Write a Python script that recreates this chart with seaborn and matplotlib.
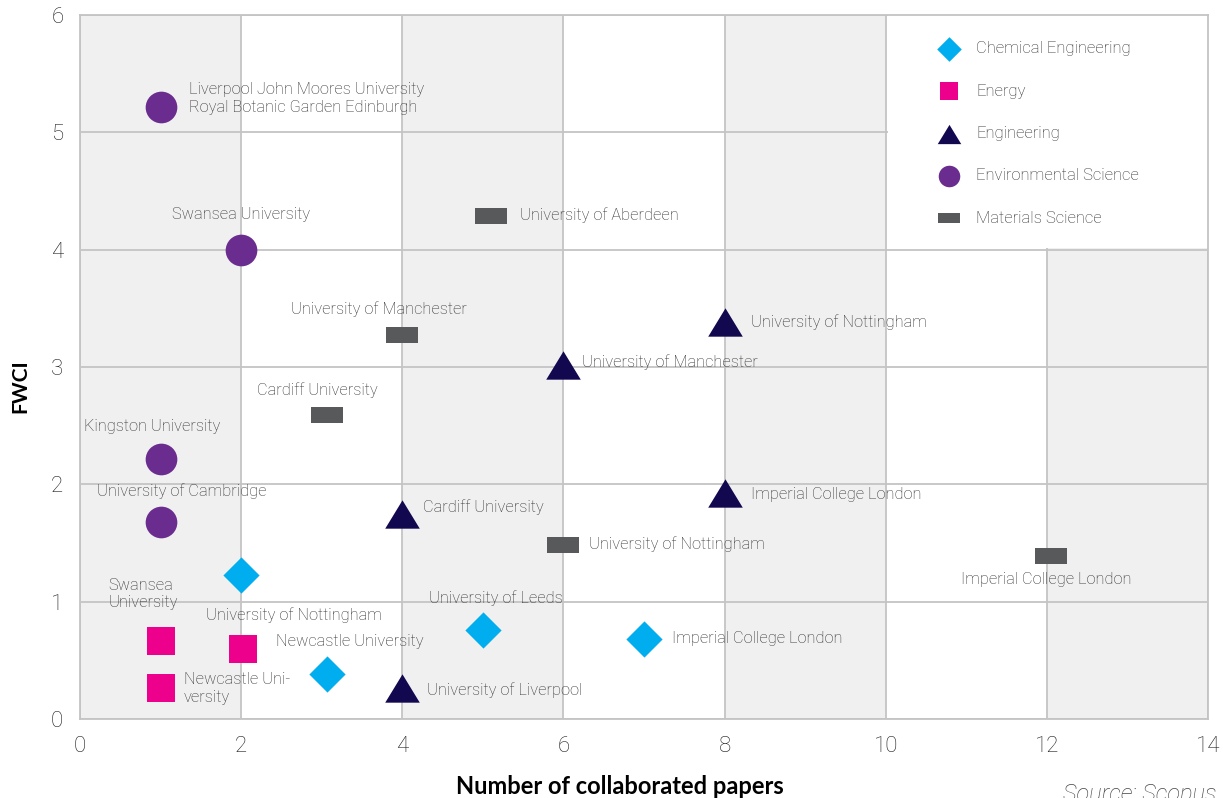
import numpy as np
import pandas as pd
import matplotlib
matplotlib.use("Agg")
import matplotlib.pyplot as plt
from matplotlib.patches import Rectangle
import seaborn as sns

# ----------------------------------------------------------
# Data
# ----------------------------------------------------------

fields = ["Chemical Engineering", "Energy", "Engineering",
          "Environmental Science", "Materials Science"]

chem_x = [2.0, 3.07, 5.0, 7.0]
chem_y = [1.23, 0.38, 0.76, 0.68]
chem_names = ["", "Newcastle University", "University of Leeds",
              "Imperial College London"]

energy_x = [1.0, 2.02, 1.0]
energy_y = [0.665, 0.60, 0.26]
energy_names = ["Swansea\nUniversity", "University of Nottingham",
                "Newcastle Uni-\nversity"]

eng_x = [4.0, 4.0, 6.0, 8.0, 8.0]
eng_y = [0.26, 1.75, 3.02, 3.38, 1.93]
eng_names = ["University of Liverpool", "Cardiff University",
             "University of Manchester", "University of Nottingham",
             "Imperial College London"]

env_x = [1.0, 2.0, 1.0, 1.0]
env_y = [5.22, 4.0, 2.215, 1.68]
env_names = ["Liverpool John Moores University\nRoyal Botanic Garden Edinburgh",
             "Swansea University", "Kingston University",
             "University of Cambridge"]

mat_x = [5.1, 4.0, 3.06, 6.0, 12.05]
mat_y = [4.29, 3.27, 2.59, 1.48, 1.39]
mat_names = ["University of Aberdeen", "University of Manchester",
             "Cardiff University", "University of Nottingham",
             "Imperial College London"]

x_ticks = [0, 2, 4, 6, 8, 10, 12, 14]
y_ticks = [0, 1, 2, 3, 4, 5, 6]

# ----------------------------------------------------------
# Style
# ----------------------------------------------------------

sns.set_style("white")
plt.rcParams["font.family"] = ["Roboto", "DejaVu Sans"]

GRID = "#c4c4c4"
BAND = "#f0f0f0"
TEXT = "#2e2e2e"
LIGHT = "light"

tri = [(-1, -0.82), (1, -0.82), (0, 0.82)]
rect = [(-1, -0.5), (1, -0.5), (1, 0.5), (-1, 0.5)]

style = {
    "Chemical Engineering": dict(marker="D", color="#00aeef", s=340),
    "Energy": dict(marker="s", color="#ec008c", s=400),
    "Engineering": dict(marker=tri, color="#12084f", s=620),
    "Environmental Science": dict(marker="o", color="#6a2c8e", s=520),
    "Materials Science": dict(marker=rect, color="#58595b", s=530),
}

# label offsets in pixels (dx, dy, ha)
offsets = {
    "Chemical Engineering": [(0, 0, "center"), (22, 33, "center"), (13, 32, "center"),
                             (28, 1, "left")],
    "Energy": [(-52, 47, "left"), (51, 33, "center"), (23, 0, "left")],
    "Engineering": [(25, -2, "left"), (21, 7, "left"), (19, 3, "left"),
                    (26, 0, "left"), (26, -2, "left")],
    "Environmental Science": [(28, 8, "left"), (0, 35, "center"), (-8, 33, "center"),
                              (21, 31, "center")],
    "Materials Science": [(29, 0, "left"), (-23, 26, "center"), (-9, 25, "center"),
                          (26, 1, "left"), (-5, -24, "center")],
}

series = {
    "Chemical Engineering": (chem_x, chem_y, chem_names),
    "Energy": (energy_x, energy_y, energy_names),
    "Engineering": (eng_x, eng_y, eng_names),
    "Environmental Science": (env_x, env_y, env_names),
    "Materials Science": (mat_x, mat_y, mat_names),
}

# ----------------------------------------------------------
# Plot
# ----------------------------------------------------------

fig = plt.figure(figsize=(12.23, 7.98), dpi=100)
ax = fig.add_axes([80 / 1223, 79 / 798, 1128 / 1223, 704 / 798])

for i in range(0, 14, 4):
    ax.axvspan(i, i + 2, color=BAND, lw=0, zorder=0)

ax.set_axisbelow(True)
ax.grid(True, color=GRID, lw=1.3)
ax.add_patch(Rectangle((10.03, 4.01), 4, 2, facecolor="white",
                       edgecolor="none", zorder=1))

for f in fields:
    xs, ys, names = series[f]
    df = pd.DataFrame({"x": xs, "y": ys})
    st = style[f]
    sns.scatterplot(data=df, x="x", y="y", marker=st["marker"], color=st["color"],
                    s=st["s"], linewidth=0, label=f, ax=ax, zorder=3)
    for (x, y, n), (dx, dy, ha) in zip(zip(xs, ys, names), offsets[f]):
        if not n:
            continue
        ax.annotate(n, (x, y), xytext=(dx, dy), textcoords="offset pixels",
                    ha=ha, va="center", fontsize=11.8, color=TEXT,
                    fontweight=LIGHT, multialignment="left",
                    linespacing=1.2, zorder=4)

ax.set_xlim(0, 14)
ax.set_ylim(0, 6)
ax.set_xticks(x_ticks)
ax.set_yticks(y_ticks)
ax.tick_params(axis="both", length=6, color=GRID, width=1.3,
               labelsize=16, labelcolor="#1e1e1e", pad=6)
for lab in ax.get_xticklabels() + ax.get_yticklabels():
    lab.set_fontweight(LIGHT)
for sp in ax.spines.values():
    sp.set_color(GRID)
    sp.set_linewidth(1.3)

ax.set_xlabel("")
ax.set_ylabel("")

leg = ax.legend(loc="upper left", bbox_to_anchor=(0.750, 0.972), frameon=False,
                fontsize=12, labelspacing=1.64, handletextpad=0.6,
                markerscale=0.68, borderaxespad=0)
for t in leg.get_texts():
    t.set_color(TEXT)
    t.set_fontweight(LIGHT)

fig.text(619.5 / 1223, 1 - 787 / 798, "Number of collaborated papers",
         ha="center", va="center", fontsize=17, fontweight="bold", color="black",
         family=["Lato", "DejaVu Sans"])
fig.text(20 / 1223, 1 - 386 / 798, "FWCI", rotation=90,
         ha="center", va="center", fontsize=15, fontweight="bold", color="black",
         family=["Lato", "DejaVu Sans"])
fig.text(1216 / 1223, -3 / 798, "Source: Scopus", ha="right", va="baseline",
         fontsize=17, fontstyle="italic", fontweight=LIGHT, color="#444444")

fig.savefig("out.png", dpi=100)
